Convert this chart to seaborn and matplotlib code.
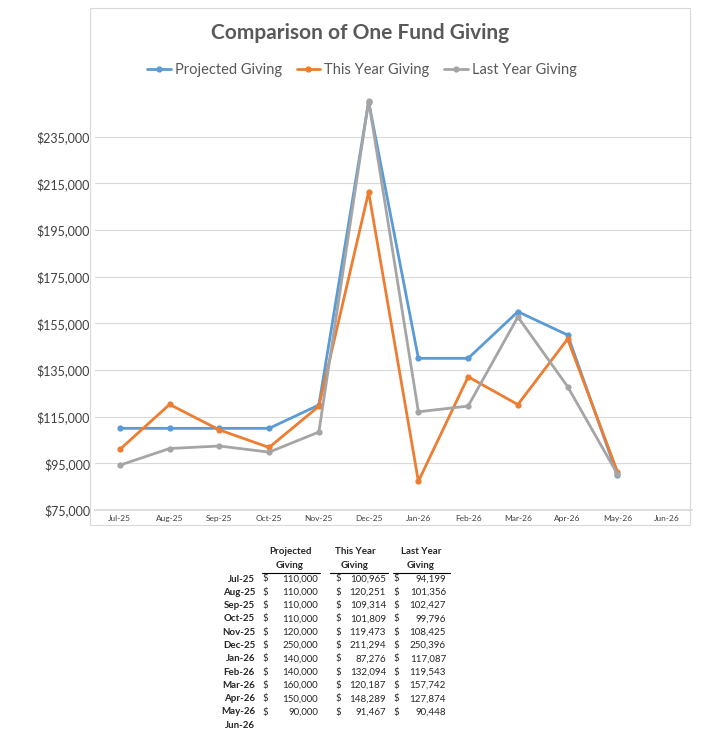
import numpy as np
import pandas as pd
import matplotlib
matplotlib.use("Agg")
import matplotlib.pyplot as plt
import seaborn as sns

months = ["Jul-25","Aug-25","Sep-25","Oct-25","Nov-25","Dec-25","Jan-26","Feb-26","Mar-26","Apr-26","May-26","Jun-26"]
projected = [110000,110000,110000,110000,120000,250000,140000,140000,160000,150000,90000,np.nan]
this_year = [100965,120251,109314,101809,119473,211294,87276,132094,120187,148289,91467,np.nan]
last_year = [94199,101356,102427,99796,108425,250396,117087,119543,157742,127874,90448,np.nan]
series = ["Projected Giving","This Year Giving","Last Year Giving"]
colors = ["#5B9BD5","#ED7D31","#A5A5A5"]

sns.set_theme(style="white")
plt.rcParams['font.family'] = ['Lato', 'DejaVu Sans']

W, H = 716, 746
fig = plt.figure(figsize=(W/100, H/100), dpi=100)
ax = fig.add_axes([95/W, 1-510/H, 597/W, 420/H])

df = pd.DataFrame({"Month": months * 3,
                   "x": list(range(12)) * 3,
                   "Value": projected + this_year + last_year,
                   "Series": sum([[s]*12 for s in series], [])})
sns.lineplot(data=df, x="x", y="Value", hue="Series", palette=colors, marker="o",
             markersize=4.5, markeredgewidth=0, linewidth=2, ax=ax, legend=True)

ax.set_xlim(-0.5, 11.5)
ax.set_ylim(75000, 255000)
ax.set_yticks(np.arange(75000, 240000, 20000))
ax.set_yticklabels([f"${v:,.0f}" for v in np.arange(75000, 240000, 20000)], fontsize=9, color="#404040")
ax.set_xticks(range(12))
ax.set_xticklabels(months, fontsize=6, color="#404040")
ax.set_xlabel(""); ax.set_ylabel("")
ax.grid(axis="y", color="#D9D9D9", linewidth=0.8)
for s in ["top", "right", "left"]:
    ax.spines[s].set_visible(False)
ax.spines["bottom"].set_color("#D9D9D9")
ax.tick_params(axis="both", length=0)
ax.legend(loc="center", bbox_to_anchor=(362/W, 1-70/H), bbox_transform=fig.transFigure,
          ncol=3, frameon=False, fontsize=10.5, labelcolor="#595959",
          handlelength=1.6, handletextpad=0.3, columnspacing=1.0)

# outer chart border
fig.add_artist(plt.Rectangle((90/W, 1-525/H), 600/W, 517/H, fill=False,
                             edgecolor="#D9D9D9", linewidth=0.8, transform=fig.transFigure))
fig.text(360/W, 1-33/H, "Comparison of One Fund Giving", ha="center", va="center",
         fontsize=15, fontweight="bold", color="#595959")

# table
fs = 7
hdr = [("Projected", "Giving", 290, 262, 320), ("This Year", "Giving", 355, 330, 388), ("Last Year", "Giving", 421, 393, 450)]
for a, b, cx, x0, x1 in hdr:
    fig.text(cx/W, 1-552/H, a, ha="center", va="center", fontsize=fs, fontweight="bold")
    fig.text(cx/W, 1-566/H, b, ha="center", va="center", fontsize=fs, fontweight="bold")
    fig.add_artist(plt.Line2D([x0/W, x1/W], [1-573/H, 1-573/H], color="black", linewidth=0.8))
cols = [(262, 318, projected), (335, 386, this_year), (393, 446, last_year)]
for i, m in enumerate(months):
    y = 1 - (579 + i*13.3)/H
    fig.text(255/W, y, m, ha="right", va="center", fontsize=fs, fontweight="bold")
    for dx, vx, arr in cols:
        v = arr[i]
        if not np.isnan(v):
            fig.text(dx/W, y, "$", ha="left", va="center", fontsize=fs)
            fig.text(vx/W, y, f"{v:,.0f}", ha="right", va="center", fontsize=fs)

fig.savefig("out.png", dpi=100, facecolor="white")
